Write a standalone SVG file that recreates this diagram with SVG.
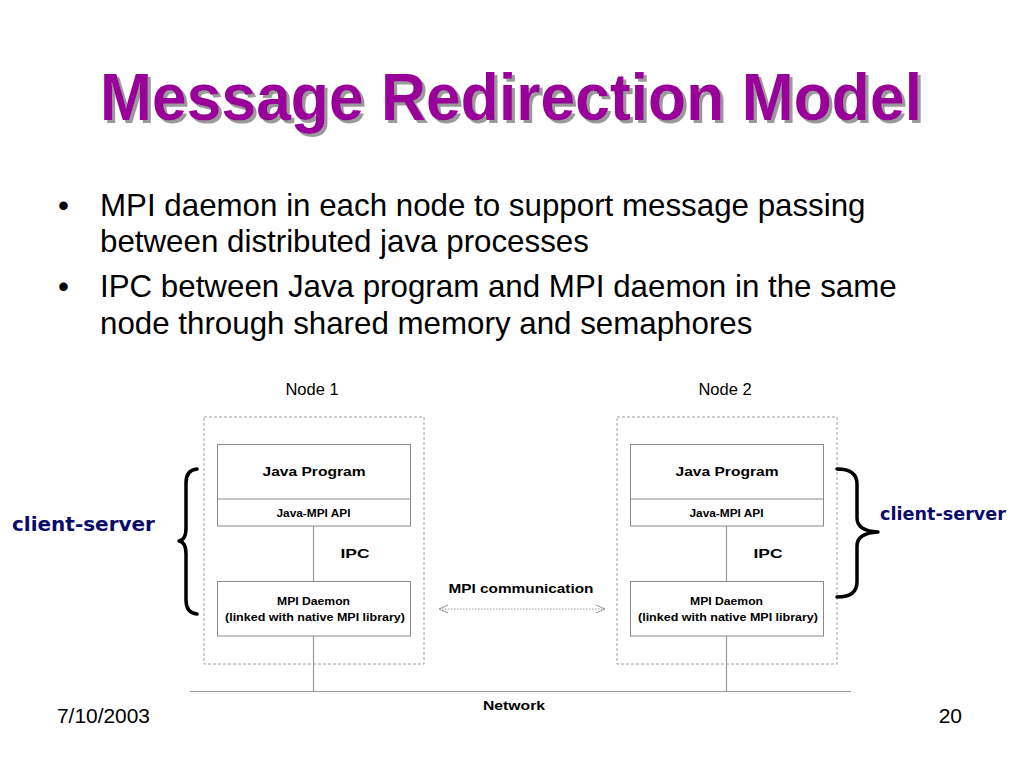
<svg xmlns="http://www.w3.org/2000/svg" width="1024" height="768" viewBox="0 0 1024 768">
<defs>
<style>
.title{font-family:"Liberation Sans",Arial,sans-serif;font-weight:bold;font-size:66px}
.bul{font-family:"Liberation Sans",Arial,sans-serif;font-size:31.3px;fill:#000}
.foot{font-family:"Liberation Sans",Arial,sans-serif;font-size:21px;fill:#000}
.lbl{font-family:"Liberation Sans",Arial,sans-serif;font-size:16.5px;fill:#000}
.b{font-family:"Liberation Sans",Arial,sans-serif;font-weight:bold;fill:#000}
.cs{font-family:"DejaVu Sans",Verdana,sans-serif;font-weight:bold;fill:#0b0b6b}
.box{fill:#fff;stroke:#8a8a8a;stroke-width:1}
.dash{fill:none;stroke:#a0a0a0;stroke-width:1;stroke-dasharray:3,2}
.ln{stroke:#9a9a9a;stroke-width:1.2;fill:none}
.brace{fill:none;stroke:#000;stroke-width:3.5;stroke-linecap:round;stroke-linejoin:round}
</style>
<filter id="shadow" x="-5%" y="-20%" width="110%" height="140%">
<feDropShadow dx="3" dy="3" stdDeviation="0.6" flood-color="#9a9a9a" flood-opacity="1"/>
</filter>
<marker id="chev" viewBox="0 0 10 10" refX="9" refY="5" markerWidth="10" markerHeight="10" markerUnits="userSpaceOnUse" orient="auto-start-reverse">
<path d="M0,1 L9,5 L0,9" fill="none" stroke="#999" stroke-width="1"/>
</marker>
</defs>
<rect width="1024" height="768" fill="#fff"/>
<g id="title">
<text class="title" x="100" y="120" fill="#990099" filter="url(#shadow)" textLength="822" lengthAdjust="spacingAndGlyphs">Message Redirection Model</text>
</g>
<g id="bullets">
<text class="bul" x="58" y="216">•</text>
<text class="bul" x="100" y="216">MPI daemon in each node to support message passing</text>
<text class="bul" x="100" y="252">between distributed java processes</text>
<text class="bul" x="58" y="297">•</text>
<text class="bul" x="100" y="297">IPC between Java program and MPI daemon in the same</text>
<text class="bul" x="100" y="334">node through shared memory and semaphores</text>
</g>
<g id="connectors">
<line class="ln" x1="313.5" y1="526" x2="313.5" y2="581"/>
<line class="ln" x1="313.5" y1="636" x2="313.5" y2="691.5"/>
<line class="ln" x1="726.5" y1="526" x2="726.5" y2="581"/>
<line class="ln" x1="726.5" y1="636" x2="726.5" y2="691.5"/>
<line class="ln" x1="190" y1="691.5" x2="851" y2="691.5"/>
<line x1="439" y1="609" x2="605" y2="609" stroke="#999" stroke-width="1" stroke-dasharray="1.5,1.5" marker-start="url(#chev)" marker-end="url(#chev)"/>
<text class="b" x="521" y="593" font-size="13.5px" text-anchor="middle" textLength="145" lengthAdjust="spacingAndGlyphs">MPI communication</text>
<text class="b" x="514" y="710" font-size="13.5px" text-anchor="middle" textLength="62" lengthAdjust="spacingAndGlyphs">Network</text>
</g>
<g id="node1">
<text class="lbl" x="312" y="395" text-anchor="middle">Node 1</text>
<rect class="dash" x="204" y="417" width="220" height="247"/>
<rect class="box" x="217.5" y="444.5" width="193" height="81.5"/>
<line class="box" x1="217.5" y1="499" x2="410.5" y2="499"/>
<text class="b" x="314" y="476" font-size="13.5px" text-anchor="middle" textLength="103" lengthAdjust="spacingAndGlyphs">Java Program</text>
<text class="b" x="313.5" y="516.5" font-size="10.5px" text-anchor="middle" textLength="74" lengthAdjust="spacingAndGlyphs">Java-MPI API</text>
<text class="b" x="355" y="558" font-size="13px" text-anchor="middle" textLength="29" lengthAdjust="spacingAndGlyphs">IPC</text>
<rect class="box" x="217.5" y="581.5" width="193" height="54.5"/>
<text class="b" x="313.5" y="605" font-size="11px" text-anchor="middle" textLength="73" lengthAdjust="spacingAndGlyphs">MPI Daemon</text>
<text class="b" x="315" y="620.5" font-size="11px" text-anchor="middle" textLength="180" lengthAdjust="spacingAndGlyphs">(linked with native MPI library)</text>
</g>
<g id="node2">
<text class="lbl" x="725" y="395" text-anchor="middle">Node 2</text>
<rect class="dash" x="617" y="417" width="220" height="247"/>
<rect class="box" x="630.5" y="444.5" width="193" height="81.5"/>
<line class="box" x1="630.5" y1="499" x2="823.5" y2="499"/>
<text class="b" x="727" y="476" font-size="13.5px" text-anchor="middle" textLength="103" lengthAdjust="spacingAndGlyphs">Java Program</text>
<text class="b" x="726.5" y="516.5" font-size="10.5px" text-anchor="middle" textLength="74" lengthAdjust="spacingAndGlyphs">Java-MPI API</text>
<text class="b" x="768" y="558" font-size="13px" text-anchor="middle" textLength="29" lengthAdjust="spacingAndGlyphs">IPC</text>
<rect class="box" x="630.5" y="581.5" width="193" height="54.5"/>
<text class="b" x="726.5" y="605" font-size="11px" text-anchor="middle" textLength="73" lengthAdjust="spacingAndGlyphs">MPI Daemon</text>
<text class="b" x="728" y="620.5" font-size="11px" text-anchor="middle" textLength="180" lengthAdjust="spacingAndGlyphs">(linked with native MPI library)</text>
</g>
<g id="client-server-left">
<path class="brace" d="M197,469 Q186,470 186,483 L186,528 Q186,540 179,541 Q186,542 186,554 L186,600 Q186,613 197,614"/>
<text class="cs" x="12" y="531" font-size="19px" textLength="143" lengthAdjust="spacingAndGlyphs">client-server</text>
</g>
<g id="client-server-right">
<path class="brace" d="M837,469 Q857,469 857,484 L857,518 Q857,531 878,532 Q857,533 857,546 L857,582 Q857,597 837,597"/>
<text class="cs" x="880" y="520" font-size="17px" textLength="126" lengthAdjust="spacingAndGlyphs">client-server</text>
</g>
<g id="footer">
<text class="foot" x="57" y="723" textLength="93" lengthAdjust="spacingAndGlyphs">7/10/2003</text>
<text class="foot" x="962" y="723" text-anchor="end">20</text>
</g>
</svg>
